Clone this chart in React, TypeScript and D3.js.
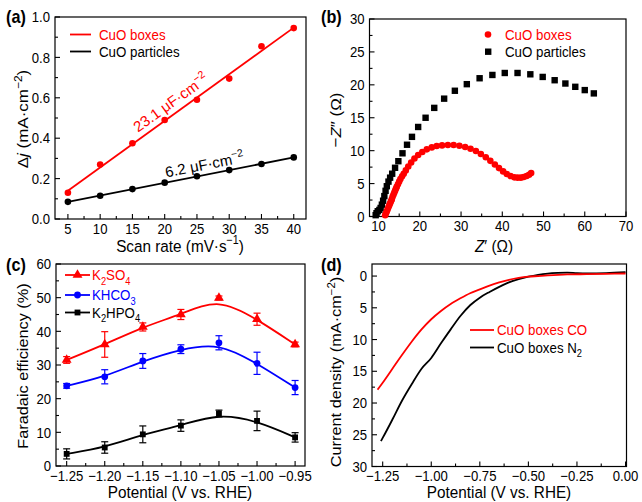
import React, { useEffect, useRef } from 'react';
import * as d3 from 'd3';

// ---------- Panel (a) data ----------
const scanRates = [5, 10, 15, 20, 25, 30, 35, 40];
const boxesDj = [0.13, 0.27, 0.375, 0.49, 0.59, 0.695, 0.855, 0.945];
const particlesDj = [0.085, 0.115, 0.148, 0.18, 0.212, 0.242, 0.272, 0.305];
const aXTicks = [5, 10, 15, 20, 25, 30, 35, 40];
const aYTicks = [0, 0.2, 0.4, 0.6, 0.8, 1.0];

// ---------- Panel (b) data ----------
const eisBoxesRe = [11.6, 11.8, 12.0, 12.2, 12.4, 12.6, 12.8, 13.0, 13.2, 13.4, 13.6, 13.8, 14.0, 14.2, 14.4, 14.7, 15.0, 15.3, 15.7, 16.1, 16.6, 17.2, 17.9, 18.7, 19.6, 20.6, 21.7, 22.9, 24.1, 25.4, 26.8, 28.2, 29.6, 31.0, 32.3, 33.6, 34.8, 36.0, 37.1, 38.2, 39.2, 40.2, 41.1, 42.0, 42.9, 43.7, 44.5, 45.2, 45.9, 46.5, 47.0];
const eisBoxesIm = [0.2, 0.5, 0.8, 1.1, 1.4, 1.7, 2.0, 2.3, 2.6, 3.0, 3.3, 3.6, 3.9, 4.2, 4.5, 4.9, 5.3, 5.7, 6.1, 6.5, 7.0, 7.6, 8.2, 8.8, 9.35, 9.8, 10.2, 10.5, 10.7, 10.8, 10.85, 10.85, 10.75, 10.55, 10.3, 9.95, 9.5, 9.0, 8.45, 7.9, 7.35, 6.85, 6.45, 6.15, 5.95, 5.9, 5.9, 6.0, 6.15, 6.35, 6.6];
const eisParticlesRe = [9.3, 9.5, 9.8, 10.2, 10.5, 10.8, 11.1, 11.4, 11.7, 12.0, 12.4, 12.8, 13.3, 14.0, 14.8, 15.8, 16.9, 18.1, 19.6, 21.4, 23.5, 25.9, 28.5, 31.4, 34.5, 37.6, 40.6, 43.7, 46.8, 49.8, 52.7, 55.3, 57.7, 60.0, 62.2];
const eisParticlesIm = [0.2, 0.5, 0.8, 1.0, 1.3, 1.8, 2.4, 3.1, 3.9, 4.6, 5.3, 5.9, 6.5, 7.4, 8.4, 9.6, 10.9, 12.1, 13.6, 15.0, 16.5, 17.9, 19.1, 20.1, 21.0, 21.5, 21.8, 21.8, 21.6, 21.2, 20.7, 20.2, 19.7, 19.2, 18.7];
const bXTicks = [10, 20, 30, 40, 50, 60, 70];
const bYTicks = [0, 5, 10, 15, 20, 25, 30];

// ---------- Panel (c) data ----------
const fePotentials = [-1.25, -1.2, -1.15, -1.1, -1.05, -1.0, -0.95];
const feK2SO4 = [31.5, 36.1, 41.3, 45.0, 49.9, 43.6, 36.1];
const feK2SO4Err = [1.0, 3.8, 1.2, 1.5, 0.6, 1.8, 0.7];
const feKHCO3 = [23.8, 26.5, 31.2, 34.7, 36.6, 30.5, 23.3];
const feKHCO3Err = [0.7, 2.1, 2.2, 1.3, 2.1, 3.3, 2.1];
const feK2HPO4 = [3.6, 5.5, 9.4, 12.0, 15.6, 13.4, 8.5];
const feK2HPO4Err = [1.5, 1.7, 2.5, 1.7, 1.0, 2.9, 1.4];
const cXTicks = [-1.25, -1.2, -1.15, -1.1, -1.05, -1.0, -0.95];
const cYTicks = [0, 10, 20, 30, 40, 50, 60];

// ---------- Panel (d) data ----------
const lsvPotCO = [-1.276, -1.25, -1.2, -1.15, -1.1, -1.05, -1.0, -0.95, -0.9, -0.85, -0.8, -0.75, -0.7, -0.65, -0.6, -0.55, -0.5, -0.45, -0.4, -0.3, -0.2, -0.1, 0.0];
const lsvCO = [17.9, 16.8, 14.6, 12.4, 10.3, 8.4, 6.8, 5.5, 4.4, 3.5, 2.7, 2.1, 1.5, 1.0, 0.6, 0.3, 0.1, 0.0, -0.1, -0.25, -0.3, -0.35, -0.4];
const lsvPotN2 = [-1.259, -1.25, -1.2, -1.15, -1.1, -1.05, -1.0, -0.95, -0.9, -0.85, -0.8, -0.75, -0.7, -0.65, -0.6, -0.55, -0.5, -0.45, -0.4, -0.35, -0.3, -0.25, -0.2, -0.1, 0.0];
const lsvN2 = [26.0, 25.5, 22.6, 19.6, 17.0, 14.6, 12.9, 10.6, 8.4, 6.3, 4.6, 3.4, 2.5, 1.7, 1.0, 0.5, 0.1, -0.2, -0.4, -0.5, -0.55, -0.45, -0.4, -0.45, -0.6];
const dXTicks = [-1.25, -1.0, -0.75, -0.5, -0.25, 0.0];
const dYTicks = [0, 5, 10, 15, 20, 25, 30];

const RED = '#ff0000';
const BLUE = '#0000ff';
const BLACK = '#000000';
const FONT = 'Arial, "Liberation Sans", Helvetica, sans-serif';
const SX = 0.9; // horizontal squeeze of the source figure's lettering
const TICK_FS = 14.6;
const TITLE_FS = 17;
const VTITLE_FS = 16.3;
const LEG_FS = 14.8;

type Part = { t: string; sup?: boolean; sub?: boolean; it?: boolean };

function rich(sel: any, parts: Part[], size: number) {
  let cur = 0;
  for (const p of parts) {
    const target = p.sup ? -size * 0.42 : p.sub ? size * 0.3 : 0;
    const ts = sel.append('tspan').attr('dy', target - cur).text(p.t);
    cur = target;
    if (p.sup || p.sub) ts.attr('font-size', size * 0.7);
    if (p.it) ts.attr('font-style', 'italic');
  }
}

function T(g: any, x: number, y: number, size: number, parts: Part[], o: { anchor?: string; rot?: number; fill?: string; bold?: boolean } = {}) {
  let tr: string;
  if (o.rot === -90) tr = `translate(${x},${y}) rotate(-90) scale(1,${SX})`;
  else if (o.rot != null) tr = `translate(${x},${y}) rotate(${o.rot}) scale(${(SX + 1) / 2 + 0.02},${1 - (1 - SX) / 3})`;
  else tr = `translate(${x},${y}) scale(${SX},1)`;
  const t = g.append('text').attr('transform', tr).attr('font-size', size)
    .attr('text-anchor', o.anchor || 'start').attr('fill', o.fill || '#000');
  if (o.bold) t.attr('font-weight', 'bold');
  rich(t, parts, size);
  return t;
}

function mids(t: number[]) {
  const out: number[] = [];
  for (let i = 0; i < t.length - 1; i++) out.push((t[i] + t[i + 1]) / 2);
  return out;
}

function axes(g: any, x: any, y: any, xT: number[], yT: number[], xf: (v: number) => string, yf: (v: number) => string) {
  const [xl, xr] = x.range();
  const yr = y.range();
  const yb = Math.max(...yr), yt = Math.min(...yr);
  const xd = x.domain(), yd = y.domain();
  const inX = (v: number) => v >= Math.min(...xd) - 1e-9 && v <= Math.max(...xd) + 1e-9;
  const inY = (v: number) => v >= Math.min(...yd) - 1e-9 && v <= Math.max(...yd) + 1e-9;
  xT.filter(inX).forEach((v) => {
    g.append('line').attr('x1', x(v)).attr('x2', x(v)).attr('y1', yb).attr('y2', yb - 5).attr('stroke', '#000').attr('stroke-width', 1.1);
    T(g, x(v), yb + 14.8, TICK_FS, [{ t: xf(v) }], { anchor: 'middle' });
  });
  mids(xT).filter(inX).forEach((v) => {
    g.append('line').attr('x1', x(v)).attr('x2', x(v)).attr('y1', yb).attr('y2', yb - 3).attr('stroke', '#000').attr('stroke-width', 1.1);
  });
  yT.filter(inY).forEach((v) => {
    g.append('line').attr('x1', xl).attr('x2', xl + 5).attr('y1', y(v)).attr('y2', y(v)).attr('stroke', '#000').attr('stroke-width', 1.1);
    T(g, xl - 5, y(v) + 5.2, TICK_FS, [{ t: yf(v) }], { anchor: 'end' });
  });
  mids(yT).filter(inY).forEach((v) => {
    g.append('line').attr('x1', xl).attr('x2', xl + 3).attr('y1', y(v)).attr('y2', y(v)).attr('stroke', '#000').attr('stroke-width', 1.1);
  });
  g.append('rect').attr('x', xl).attr('y', yt).attr('width', xr - xl).attr('height', yb - yt)
    .attr('fill', 'none').attr('stroke', '#000').attr('stroke-width', 1.2);
}

function linFit(xs: number[], ys: number[]) {
  const mx = d3.mean(xs) as number, my = d3.mean(ys) as number;
  let num = 0, den = 0;
  xs.forEach((v, i) => { num += (v - mx) * (ys[i] - my); den += (v - mx) ** 2; });
  const m = num / den;
  return { m, b: my - m * mx };
}

const minus = (s: string) => s.replace(/-/g, '\u2212');

export default function App() {
  const ref = useRef<SVGSVGElement>(null);
  useEffect(() => {
    const svg = d3.select(ref.current);
    svg.selectAll('*').remove();
    const root = svg.append('g').attr('font-family', FONT).attr('fill', '#000');

    // ================= Panel (a) =================
    {
      const g = root.append('g');
      const x = d3.scaleLinear().domain([3, 41.9]).range([55, 306]);
      const y = d3.scaleLinear().domain([0, 1]).range([219, 17]);
      axes(g, x, y, aXTicks, aYTicks, (v) => String(v), (v) => v.toFixed(1));
      const series = [
        { ys: boxesDj, color: RED },
        { ys: particlesDj, color: BLACK },
      ];
      const fits = series.map((s) => linFit(scanRates, s.ys));
      series.forEach((s, i) => {
        const f = fits[i];
        const x0 = scanRates[0], x1 = scanRates[scanRates.length - 1];
        g.append('line').attr('x1', x(x0)).attr('y1', y(f.m * x0 + f.b)).attr('x2', x(x1)).attr('y2', y(f.m * x1 + f.b))
          .attr('stroke', s.color).attr('stroke-width', 1.8);
        g.selectAll(null).data(scanRates).enter().append('circle')
          .attr('cx', (d: number) => x(d)).attr('cy', (_: any, j: number) => y(s.ys[j])).attr('r', 3.3).attr('fill', s.color);
      });
      const ann = (fi: number, xs: number, off: number, parts: Part[], color: string) => {
        const f = fits[fi];
        const px0 = x(xs), py0 = y(f.m * xs + f.b);
        const px1 = x(xs + 10), py1 = y(f.m * (xs + 10) + f.b);
        const ang = Math.atan2(py1 - py0, px1 - px0) * 180 / Math.PI;
        const nx = Math.sin(ang * Math.PI / 180) * off, ny = -Math.cos(ang * Math.PI / 180) * off;
        T(g, px0 + nx, py0 + ny, 15.5, parts, { rot: ang, fill: color });
      };
      ann(0, 16.4, 6, [{ t: '23.1 \u03bcF\u00b7cm' }, { t: '\u22122', sup: true }], RED);
      ann(1, 20.4, 5, [{ t: '6.2 \u03bcF\u00b7cm' }, { t: '\u22122', sup: true }], BLACK);
      const leg = [{ label: 'CuO boxes', color: RED, y: 34.5 }, { label: 'CuO particles', color: BLACK, y: 51.5 }];
      leg.forEach((l) => {
        g.append('line').attr('x1', 70).attr('x2', 91).attr('y1', l.y).attr('y2', l.y).attr('stroke', l.color).attr('stroke-width', 1.8);
        T(g, 99, l.y + 5.3, LEG_FS, [{ t: l.label }], { fill: l.color });
      });
      T(g, 180, 251.5, TITLE_FS, [{ t: 'Scan rate (mV\u00b7s' }, { t: '\u22121', sup: true }, { t: ')' }], { anchor: 'middle' });
      T(g, 28, 119, 17, [{ t: '\u0394' }, { t: 'j', it: true }, { t: ' (mA\u00b7cm' }, { t: '\u22122', sup: true }, { t: ')' }], { anchor: 'middle', rot: -90 });
      T(g, 6, 23, 18, [{ t: '(a)' }], { bold: true });
    }

    // ================= Panel (b) =================
    {
      const g = root.append('g');
      const x = d3.scaleLinear().domain([7.8, 70]).range([369.5, 626]);
      const y = d3.scaleLinear().domain([0, 30]).range([216.5, 19]);
      axes(g, x, y, bXTicks, bYTicks, (v) => String(v), (v) => String(v));
      const sq = 6.4;
      g.selectAll(null).data(eisParticlesRe).enter().append('rect')
        .attr('x', (d: number) => x(d) - sq / 2).attr('y', (_: any, j: number) => y(eisParticlesIm[j]) - sq / 2)
        .attr('width', sq).attr('height', sq).attr('fill', BLACK);
      g.selectAll(null).data(eisBoxesRe).enter().append('circle')
        .attr('cx', (d: number) => x(d)).attr('cy', (_: any, j: number) => y(eisBoxesIm[j])).attr('r', 3.3).attr('fill', RED);
      g.append('circle').attr('cx', 488).attr('cy', 34.5).attr('r', 3.3).attr('fill', RED);
      T(g, 505, 39.8, LEG_FS, [{ t: 'CuO boxes' }], { fill: RED });
      g.append('rect').attr('x', 485).attr('y', 48.5).attr('width', sq).attr('height', sq).attr('fill', BLACK);
      T(g, 505, 56.8, LEG_FS, [{ t: 'CuO particles' }], { fill: BLACK });
      T(g, 494, 251.5, TITLE_FS, [{ t: 'Z', it: true }, { t: '\u2032 (\u03a9)' }], { anchor: 'middle' });
      T(g, 341, 120, 17, [{ t: '\u2212' }, { t: 'Z', it: true }, { t: '\u2033 (\u03a9)' }], { anchor: 'middle', rot: -90 });
      T(g, 321, 23, 18, [{ t: '(b)' }], { bold: true });
    }

    // ================= Panel (c) =================
    {
      const g = root.append('g');
      const x = d3.scaleLinear().domain([-1.264, -0.937]).range([56, 305]);
      const y = d3.scaleLinear().domain([0, 60]).range([466, 264]);
      axes(g, x, y, cXTicks, cYTicks, (v) => minus(v.toFixed(2)), (v) => String(v));
      const series = [
        { v: feK2SO4, e: feK2SO4Err, color: RED, sym: d3.symbolTriangle, size: 42 },
        { v: feKHCO3, e: feKHCO3Err, color: BLUE, sym: d3.symbolCircle, size: 36 },
        { v: feK2HPO4, e: feK2HPO4Err, color: BLACK, sym: d3.symbolSquare, size: 34 },
      ];
      series.forEach((s) => {
        const line = d3.line<number>().x((_, i) => x(fePotentials[i])).y((d) => y(d)).curve(d3.curveBasis);
        g.append('path').attr('d', line(s.v)).attr('fill', 'none').attr('stroke', s.color).attr('stroke-width', 1.8);
        fePotentials.forEach((p, i) => {
          const px = x(p), lo = y(s.v[i] - s.e[i]), hi = y(s.v[i] + s.e[i]);
          g.append('line').attr('x1', px).attr('x2', px).attr('y1', lo).attr('y2', hi).attr('stroke', s.color).attr('stroke-width', 1.2);
          [lo, hi].forEach((yy) => g.append('line').attr('x1', px - 3.5).attr('x2', px + 3.5).attr('y1', yy).attr('y2', yy).attr('stroke', s.color).attr('stroke-width', 1.2));
          g.append('path').attr('d', d3.symbol().type(s.sym).size(s.size)()).attr('transform', `translate(${px},${y(s.v[i])})`).attr('fill', s.color);
        });
      });
      const leg: { parts: Part[]; color: string; y: number; sym: any; size: number }[] = [
        { parts: [{ t: 'K' }, { t: '2', sub: true }, { t: 'SO' }, { t: '4', sub: true }], color: RED, y: 275, sym: d3.symbolTriangle, size: 42 },
        { parts: [{ t: 'KHCO' }, { t: '3', sub: true }], color: BLUE, y: 295, sym: d3.symbolCircle, size: 36 },
        { parts: [{ t: 'K' }, { t: '2', sub: true }, { t: 'HPO' }, { t: '4', sub: true }], color: BLACK, y: 312.5, sym: d3.symbolSquare, size: 34 },
      ];
      leg.forEach((l) => {
        g.append('line').attr('x1', 65).attr('x2', 90).attr('y1', l.y).attr('y2', l.y).attr('stroke', l.color).attr('stroke-width', 1.8);
        g.append('path').attr('d', d3.symbol().type(l.sym).size(l.size)()).attr('transform', `translate(77.5,${l.y})`).attr('fill', l.color);
        T(g, 92, l.y + 5.3, LEG_FS, l.parts, { fill: l.color });
      });
      T(g, 180, 497.5, TITLE_FS, [{ t: 'Potential (V vs. RHE)' }], { anchor: 'middle' });
      T(g, 28, 366, VTITLE_FS, [{ t: 'Faradaic efficiency (%)' }], { anchor: 'middle', rot: -90 });
      T(g, 6, 271, 18, [{ t: '(c)' }], { bold: true });
    }

    // ================= Panel (d) =================
    {
      const g = root.append('g');
      const x = d3.scaleLinear().domain([-1.305, 0.005]).range([372, 626.5]);
      const y = d3.scaleLinear().domain([-1.9, 30]).range([264, 466.5]);
      axes(g, x, y, dXTicks, dYTicks, (v) => minus(v.toFixed(2)), (v) => String(v));
      const ln = (px: number[]) => d3.line<number>().x((_, i) => x(px[i])).y((d) => y(d)).curve(d3.curveMonotoneX);
      g.append('path').attr('d', ln(lsvPotN2)(lsvN2)).attr('fill', 'none').attr('stroke', BLACK).attr('stroke-width', 1.8);
      g.append('path').attr('d', ln(lsvPotCO)(lsvCO)).attr('fill', 'none').attr('stroke', RED).attr('stroke-width', 1.8);
      const leg: { parts: Part[]; color: string; y: number }[] = [
        { parts: [{ t: 'CuO boxes CO' }], color: RED, y: 330 },
        { parts: [{ t: 'CuO boxes N' }, { t: '2', sub: true }], color: BLACK, y: 347.5 },
      ];
      leg.forEach((l) => {
        g.append('line').attr('x1', 470).attr('x2', 494).attr('y1', l.y).attr('y2', l.y).attr('stroke', l.color).attr('stroke-width', 1.8);
        T(g, 497, l.y + 5.3, LEG_FS, l.parts, { fill: l.color });
      });
      T(g, 499, 497.5, TITLE_FS, [{ t: 'Potential (V vs. RHE)' }], { anchor: 'middle' });
      T(g, 341, 372, VTITLE_FS, [{ t: 'Current density (mA\u00b7cm' }, { t: '\u22122', sup: true }, { t: ')' }], { anchor: 'middle', rot: -90 });
      T(g, 321, 271, 18, [{ t: '(d)' }], { bold: true });
    }
  }, []);

  return (
    <svg ref={ref} width={642} height={502} viewBox="0 0 642 502"
      style={{ position: 'absolute', left: 0, top: 0, background: '#fff' }} />
  );
}
